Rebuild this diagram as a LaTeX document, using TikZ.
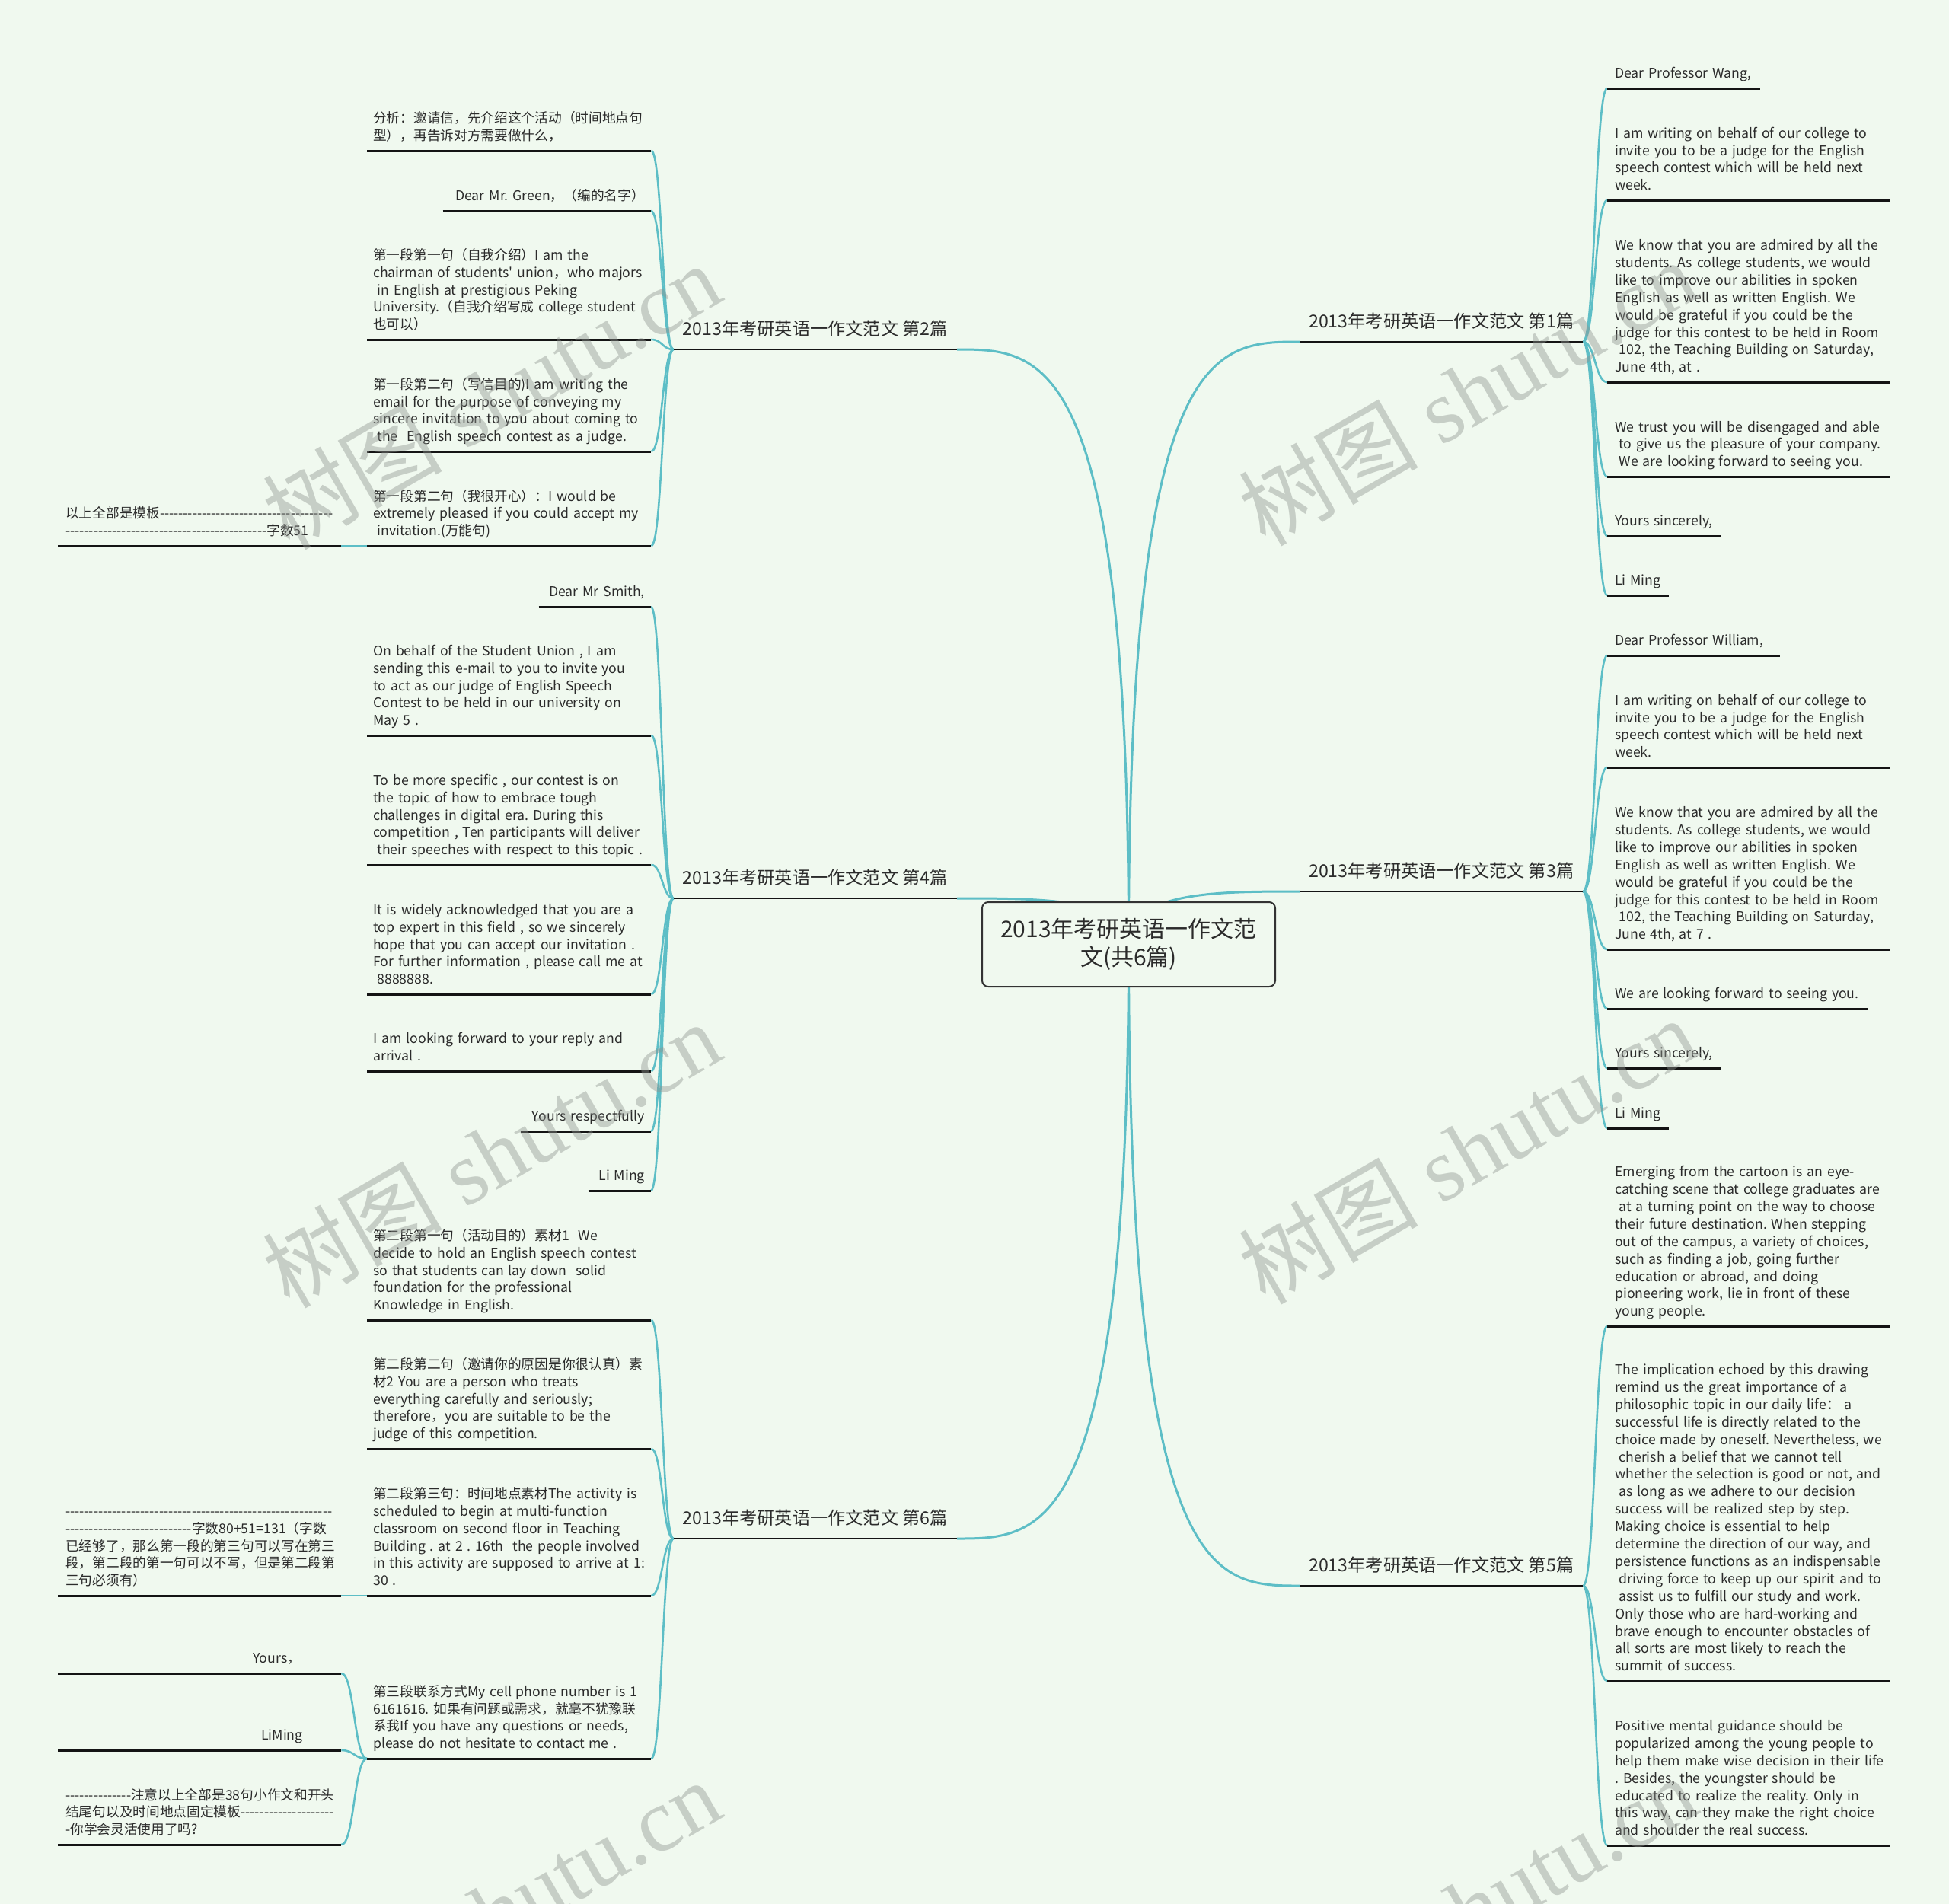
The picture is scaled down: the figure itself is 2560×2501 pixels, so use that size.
\documentclass[tikz,border=0pt]{standalone}
\usepackage{fontspec}
\newfontfamily\cjk{Noto Sans CJK SC}
\newfontfamily\wmserif{Liberation Serif}
\usetikzlibrary{calc}
\pgfdeclarelayer{bgl}
\pgfdeclarelayer{lines}
\pgfsetlayers{bgl,lines,main}
\definecolor{bgc}{HTML}{F0F9EF}
\definecolor{tealc}{HTML}{5DBEC6}
\definecolor{txtc}{HTML}{2B2B2B}
\definecolor{wmc}{HTML}{8E938E}
\newcommand\tabL[1]{\noindent\begin{tabular}[b]{@{}l@{}}#1\end{tabular}}
\newcommand\tabR[1]{\noindent\begin{tabular}[b]{@{}r@{}}#1\end{tabular}}
\newcommand\lsp{\hspace*{0.3em}}
\newcommand\dsh[1]{\foreach\i in {1,...,#1}{-}}
\newcommand\sconn[2]{\draw[ltwo] (#1) .. controls ($(#1)!0.5!(#1 -| #2)$) and ($(#2)!0.5!(#2 -| #1)$) .. (#2);}
\newcommand\rconn[1]{\draw[lone] (root.center) .. controls (root.center |- #1) and ($(root.center |- #1)!0.5!(#1)$) .. (#1);}
\tikzset{
  leaf/.style={font=\cjk\frenchspacing\fontsize{17.7}{22.9}\selectfont, text=txtc, inner xsep=8pt, inner ysep=13pt, text depth=0pt, align=left},
  leafr/.style={leaf, inner xsep=10pt},
  ulin/.style={line width=3pt, draw=black!92},
  bulin/.style={line width=2.6pt, draw=black!92},
  lone/.style={draw=tealc, line width=3pt},
  ltwo/.style={draw=tealc, line width=2.6pt},
  brn/.style={font=\cjk\fontsize{23.2}{29}\selectfont, text=txtc, minimum width=372pt, inner xsep=0pt, inner ysep=18pt, text depth=0pt},
  rootn/.style={draw=black!80, line width=2pt, rounded corners=8pt, fill=bgc, minimum width=385pt, minimum height=111pt, align=center, font=\cjk\fontsize{30}{37}\selectfont, text=txtc, inner sep=0pt},
  wmark/.style={font=\wmserif\fontsize{118}{118}\selectfont, text=wmc, opacity=0.42, rotate=30}
}
\begin{document}
\begin{tikzpicture}[x=1pt,y=-1pt]
\useasboundingbox (0,0) rectangle (2560,2501);
\clip (0,0) rectangle (2560,2501);
\begin{pgfonlayer}{bgl}
\fill[bgc] (0,0) rectangle (2560,2501);
\end{pgfonlayer}

% root
\node[rootn] (root) at (1482.5,1240.5) {2013年考研英语一作文范\\文(共6篇)};

% branches
\node[brn, anchor=south west] (B1) at (1707,449) {2013年考研英语一作文范文 第1篇};
\node[brn, anchor=south west] (B3) at (1707,1171) {2013年考研英语一作文范文 第3篇};
\node[brn, anchor=south west] (B5) at (1707,2083) {2013年考研英语一作文范文 第5篇};
\node[brn, anchor=south east] (B2) at (1257,459) {2013年考研英语一作文范文 第2篇};
\node[brn, anchor=south east] (B4) at (1257,1180) {2013年考研英语一作文范文 第4篇};
\node[brn, anchor=south east] (B6) at (1257,2021) {2013年考研英语一作文范文 第6篇};

% ---------- branch 2 leaves
\node[leaf, text width=357pt, anchor=south west] (L2a) at (482,198) {\tabL{分析：邀请信，先介绍这个活动（时间地点句\\型），再告诉对方需要做什么，}};
\node[leaf, text width=257pt, align=right, anchor=south east] (L2b) at (855,277) {\tabR{Dear Mr. Green，（编的名字）}};
\node[leaf, text width=357pt, anchor=south west] (L2c) at (482,446) {\tabL{第一段第一句（自我介绍）I am the\\chairman of students' union，who majors\\\lsp in English at prestigious Peking\\University.（自我介绍写成 college student\\也可以）}};
\node[leaf, text width=357pt, anchor=south west] (L2d) at (482,593) {\tabL{第一段第二句（写信目的)I am writing the\\email for the purpose of conveying my\\sincere invitation to you about coming to\\\lsp the\ \ English speech contest as a judge.}};
\node[leaf, text width=357pt, anchor=south west] (L2e) at (482,717) {\tabL{第一段第二句（我很开心）：I would be\\extremely pleased if you could accept my\\\lsp invitation.(万能句)}};
\node[leafr, text width=352pt, anchor=south west] (L2x) at (76,717) {\tabL{以上全部是模板\dsh{37}\\\dsh{43}字数51}};

% ---------- branch 4 leaves
\node[leaf, text width=131pt, align=right, anchor=south east] (L4a) at (855,797) {\tabR{Dear Mr Smith,}};
\node[leaf, text width=357pt, anchor=south west] (L4b) at (482,966) {\tabL{On behalf of the Student Union , I am\\sending this e-mail to you to invite you\\to act as our judge of English Speech\\Contest to be held in our university on\\May 5 .}};
\node[leaf, text width=357pt, anchor=south west] (L4c) at (482,1136) {\tabL{To be more specific , our contest is on\\the topic of how to embrace tough\\challenges in digital era. During this\\competition , Ten participants will deliver\\\lsp their speeches with respect to this topic .}};
\node[leaf, text width=357pt, anchor=south west] (L4d) at (482,1306) {\tabL{It is widely acknowledged that you are a\\top expert in this field , so we sincerely\\hope that you can accept our invitation .\\For further information , please call me at\\\lsp 8888888.}};
\node[leaf, text width=357pt, anchor=south west] (L4e) at (482,1407) {\tabL{I am looking forward to your reply and\\arrival .}};
\node[leaf, text width=155pt, align=right, anchor=south east] (L4f) at (855,1486) {\tabR{Yours respectfully}};
\node[leaf, text width=66pt, align=right, anchor=south east] (L4g) at (855,1564) {\tabR{Li Ming}};

% ---------- branch 6 leaves
\node[leaf, text width=357pt, anchor=south west] (L6a) at (482,1734) {\tabL{第二段第一句（活动目的）素材1\ \ We\\decide to hold an English speech contest\\so that students can lay down\ \ solid\\foundation for the professional\\Knowledge in English.}};
\node[leaf, text width=357pt, anchor=south west] (L6b) at (482,1903) {\tabL{第二段第二句（邀请你的原因是你很认真）素\\材2 You are a person who treats\\everything carefully and seriously;\\therefore，you are suitable to be the\\judge of this competition.}};
\node[leaf, text width=357pt, anchor=south west] (L6c) at (482,2096) {\tabL{第二段第三句：时间地点素材The activity is\\scheduled to begin at multi-function\\classroom on second floor in Teaching\\Building . at 2 . 16th\ \ the people involved\\in this activity are supposed to arrive at 1:\\30 .}};
\node[leaf, text width=357pt, anchor=south west] (L6d) at (482,2310) {\tabL{第三段联系方式My cell phone number is 1\\6161616. 如果有问题或需求，就毫不犹豫联\\系我If you have any questions or needs,\\please do not hesitate to contact me .}};
\node[leafr, text width=352pt, anchor=south west] (L6x) at (76,2096) {\tabL{\dsh{57}\\\dsh{27}字数80+51=131（字数\\已经够了，那么第一段的第三句可以写在第三\\段，第二段的第一句可以不写，但是第二段第\\三句必须有）}};
\node[leafr, text width=352pt, anchor=south west] (L6y1) at (76,2198) {\tabL{\hspace*{246pt}Yours，}};
\node[leafr, text width=352pt, anchor=south west] (L6y2) at (76,2299) {\tabL{\hspace*{257pt}LiMing}};
\node[leafr, text width=352pt, anchor=south west] (L6y3) at (76,2423) {\tabL{\dsh{14}注意以上全部是38句小作文和开头\\结尾句以及时间地点固定模板\dsh{20}\\-你学会灵活使用了吗?}};

% ---------- branch 1 leaves
\node[leafr, text width=181pt, anchor=south west] (R1a) at (2111,116) {\tabL{Dear Professor Wang,}};
\node[leafr, text width=352pt, anchor=south west] (R1b) at (2111,263) {\tabL{I am writing on behalf of our college to\\invite you to be a judge for the English\\speech contest which will be held next\\week.}};
\node[leafr, text width=352pt, anchor=south west] (R1c) at (2111,502) {\tabL{We know that you are admired by all the\\students. As college students, we would\\like to improve our abilities in spoken\\English as well as written English. We\\would be grateful if you could be the\\judge for this contest to be held in Room\\\lsp 102, the Teaching Building on Saturday,\\June 4th, at .}};
\node[leafr, text width=352pt, anchor=south west] (R1d) at (2111,626) {\tabL{We trust you will be disengaged and able\\\lsp to give us the pleasure of your company.\\\lsp We are looking forward to seeing you.}};
\node[leafr, text width=129pt, anchor=south west] (R1e) at (2111,704) {\tabL{Yours sincerely,}};
\node[leafr, text width=61pt, anchor=south west] (R1f) at (2111,782) {\tabL{Li Ming}};

% ---------- branch 3 leaves
\node[leafr, text width=207pt, anchor=south west] (R3a) at (2111,861) {\tabL{Dear Professor William,}};
\node[leafr, text width=352pt, anchor=south west] (R3b) at (2111,1008) {\tabL{I am writing on behalf of our college to\\invite you to be a judge for the English\\speech contest which will be held next\\week.}};
\node[leafr, text width=352pt, anchor=south west] (R3c) at (2111,1247) {\tabL{We know that you are admired by all the\\students. As college students, we would\\like to improve our abilities in spoken\\English as well as written English. We\\would be grateful if you could be the\\judge for this contest to be held in Room\\\lsp 102, the Teaching Building on Saturday,\\June 4th, at 7 .}};
\node[leafr, text width=323pt, anchor=south west] (R3d) at (2111,1325) {\tabL{We are looking forward to seeing you.}};
\node[leafr, text width=129pt, anchor=south west] (R3e) at (2111,1403) {\tabL{Yours sincerely,}};
\node[leafr, text width=61pt, anchor=south west] (R3f) at (2111,1482) {\tabL{Li Ming}};

% ---------- branch 5 leaves
\node[leafr, text width=352pt, anchor=south west] (R5a) at (2111,1742) {\tabL{Emerging from the cartoon is an eye-\\catching scene that college graduates are\\\lsp at a turning point on the way to choose\\their future destination. When stepping\\out of the campus, a variety of choices,\\such as finding a job, going further\\education or abroad, and doing\\pioneering work, lie in front of these\\young people.}};
\node[leafr, text width=352pt, anchor=south west] (R5b) at (2111,2208) {\tabL{The implication echoed by this drawing\\remind us the great importance of a\\philosophic topic in our daily life：\ a\\successful life is directly related to the\\choice made by oneself. Nevertheless, we\\\lsp cherish a belief that we cannot tell\\whether the selection is good or not, and\\\lsp as long as we adhere to our decision\\success will be realized step by step.\\Making choice is essential to help\\determine the direction of our way, and\\persistence functions as an indispensable\\\lsp driving force to keep up our spirit and to\\\lsp assist us to fulfill our study and work.\\Only those who are hard-working and\\brave enough to encounter obstacles of\\all sorts are most likely to reach the\\summit of success.}};
\node[leafr, text width=352pt, anchor=south west] (R5c) at (2111,2424) {\tabL{Positive mental guidance should be\\popularized among the young people to\\help them make wise decision in their life\\. Besides, the youngster should be\\educated to realize the reality. Only in\\this way, can they make the right choice\\and shoulder the real success.}};

% ---------- underlines
\foreach \n in {L2a,L2b,L2c,L2d,L2e,L2x,L4a,L4b,L4c,L4d,L4e,L4f,L4g,L6a,L6b,L6c,L6d,L6x,L6y1,L6y2,L6y3,R1a,R1b,R1c,R1d,R1e,R1f,R3a,R3b,R3c,R3d,R3e,R3f,R5a,R5b,R5c}
  \draw[ulin] (\n.south west) -- (\n.south east);
\foreach \n in {B1,B2,B3,B4,B5,B6}
  \draw[bulin] (\n.south west) -- (\n.south east);

% ---------- connectors
\begin{pgfonlayer}{lines}
\rconn{B1.south west}
\rconn{B3.south west}
\rconn{B5.south west}
\rconn{B2.south east}
\rconn{B4.south east}
\rconn{B6.south east}
\foreach \n in {L2a,L2b,L2c,L2d,L2e} {\sconn{B2.south west}{\n.south east}}
\foreach \n in {L4a,L4b,L4c,L4d,L4e,L4f,L4g} {\sconn{B4.south west}{\n.south east}}
\foreach \n in {L6a,L6b,L6c,L6d} {\sconn{B6.south west}{\n.south east}}
\sconn{L2e.south west}{L2x.south east}
\sconn{L6c.south west}{L6x.south east}
\foreach \n in {L6y1,L6y2,L6y3} {\sconn{L6d.south west}{\n.south east}}
\foreach \n in {R1a,R1b,R1c,R1d,R1e,R1f} {\sconn{B1.south east}{\n.south west}}
\foreach \n in {R3a,R3b,R3c,R3d,R3e,R3f} {\sconn{B3.south east}{\n.south west}}
\foreach \n in {R5a,R5b,R5c} {\sconn{B5.south east}{\n.south west}}
\end{pgfonlayer}

% ---------- watermarks
\node[wmark] (w1) at (645,520) {{\cjk 树图} shutu.cn};
\node[wmark] (w2) at (1927,515) {{\cjk 树图} shutu.cn};
\node[wmark] (w3) at (645,1516) {{\cjk 树图} shutu.cn};
\node[wmark] (w4) at (1927,1511) {{\cjk 树图} shutu.cn};
\node[wmark] (w5) at (645,2512) {{\cjk 树图} shutu.cn};
\node[wmark] (w6) at (1927,2507) {{\cjk 树图} shutu.cn};
\end{tikzpicture}
\end{document}
